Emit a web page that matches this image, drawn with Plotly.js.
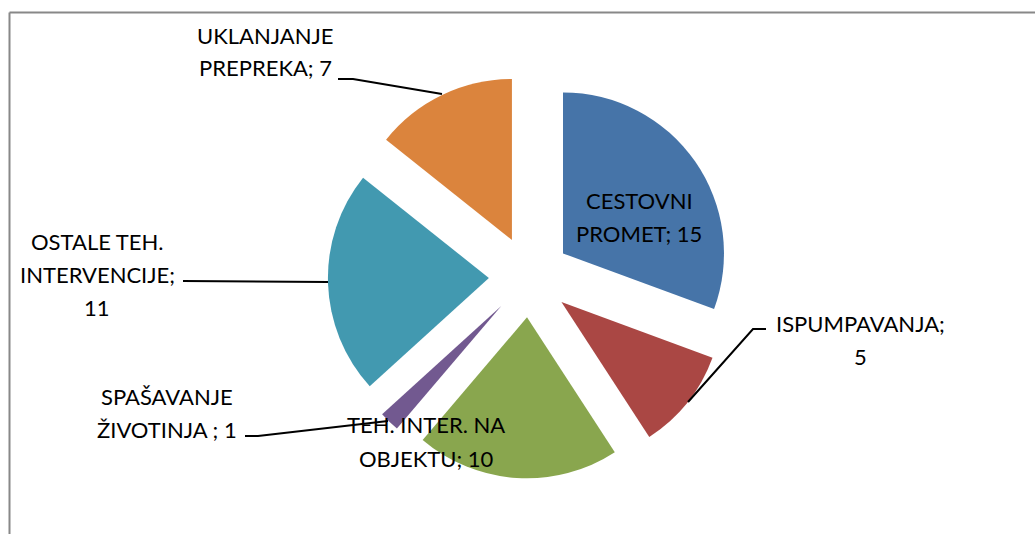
<!DOCTYPE html>
<html>
<head>
<meta charset="utf-8">
<script src="https://cdn.plot.ly/plotly-3.0.1.min.js"></script>
<style>
html,body{margin:0;padding:0;background:#fff;}
#chart{width:1035px;height:534px;}
</style>
</head>
<body>
<div id="chart"></div>
<script>
// ---- data ----
var categories = ['CESTOVNI PROMET', 'ISPUMPAVANJA', 'TEH. INTER. NA OBJEKTU', 'SPAŠAVANJE ŽIVOTINJA ', 'OSTALE TEH. INTERVENCIJE', 'UKLANJANJE PREPREKA'];
var values = [15, 5, 10, 1, 11, 7];
var colors = ['#4674A8', '#AA4744', '#89A64E', '#725990', '#4299B0', '#DB843D'];

// ---- layout config (positions in pixels of the 1035x534 page) ----
var W = 1035, H = 534;
function px(x){ return x / W; }
function py(y){ return 1 - y / H; }

// label block centres (first line) and leader lines
var labelPos = [
  {x: 639, y: 200},
  {x: 860, y: 323},
  {x: 426, y: 425},
  {x: 167, y: 396},
  {x: 97,  y: 241},
  {x: 265, y: 35}
];
var leaders = [
  null,
  [[766,329],[753,329],[688,402]],
  null,
  [[245,436],[258,436],[388,421]],
  [[183,281],[328,282]],
  [[338,79],[353,79],[442,94]]
];
var lineGap = 33;
var maxChars = 14;

function wrap(text, max){
  var words = text.split(' ').filter(function(w){return w.length;});
  var lines = [], cur = '';
  words.forEach(function(w){
    if (!cur) cur = w;
    else if ((cur + ' ' + w).length <= max) cur += ' ' + w;
    else { lines.push(cur); cur = w; }
  });
  if (cur) lines.push(cur);
  return lines;
}

var annotations = [];
categories.forEach(function(c, i){
  var txt = c + '; ' + values[i];
  var lines = wrap(txt, maxChars);
  lines.forEach(function(l, k){
    annotations.push({
      xref: 'paper', yref: 'paper',
      x: px(labelPos[i].x), y: py(labelPos[i].y + k * lineGap),
      text: l, showarrow: false,
      xanchor: 'center', yanchor: 'middle',
      font: {family: 'Lato, "Open Sans", sans-serif', size: 22, color: '#000'}
    });
  });
});

var shapes = [
  // chart frame (left and top edges)
  {type: 'line', xref: 'paper', yref: 'paper', x0: px(9.5), y0: py(12.5), x1: px(1040), y1: py(12.5), line: {color: '#888888', width: 2}},
  {type: 'line', xref: 'paper', yref: 'paper', x0: px(9.5), y0: py(12.5), x1: px(9.5), y1: py(540), line: {color: '#888888', width: 2}}
];
leaders.forEach(function(pts){
  if (!pts) return;
  var d = 'M ' + pts.map(function(p){ return px(p[0]) + ',' + py(p[1]); }).join(' L ');
  shapes.push({type: 'path', xref: 'paper', yref: 'paper', path: d, line: {color: '#000', width: 2}});
});

var trace = {
  type: 'pie',
  labels: categories,
  values: values,
  sort: false,
  direction: 'clockwise',
  rotation: 0,
  pull: values.map(function(){ return 0.253; }),
  marker: {colors: colors, line: {width: 0}},
  textinfo: 'none',
  hoverinfo: 'label+value',
  domain: {x: [px(327.8), px(731.4)], y: [py(478.4), py(75)]},
  showlegend: false
};

var layout = {
  width: W, height: H,
  margin: {l: 0, r: 0, t: 0, b: 0},
  paper_bgcolor: '#fff',
  showlegend: false,
  annotations: annotations,
  shapes: shapes
};

Plotly.newPlot('chart', [trace], layout, {displayModeBar: false, staticPlot: true});
</script>
</body>
</html>
